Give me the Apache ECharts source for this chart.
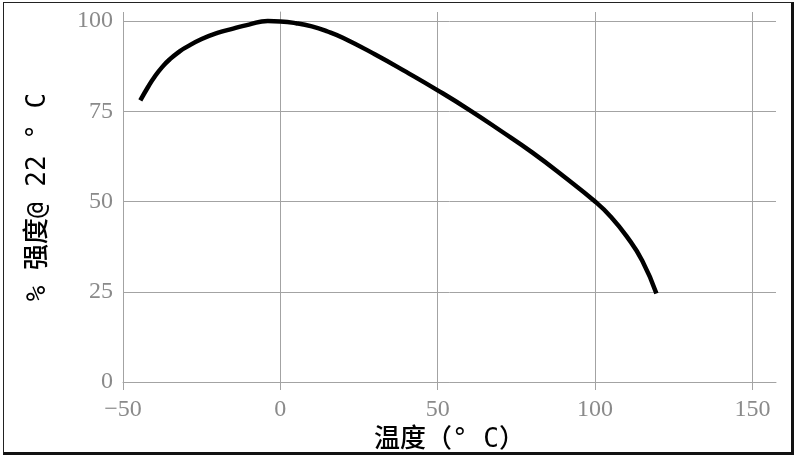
<!DOCTYPE html>
<html lang="zh">

<head>
    <meta charset="UTF-8">
    <title>强度-温度</title>
    <script src="https://cdn.jsdelivr.net/npm/echarts@6/dist/echarts.min.js"></script>
    <style>
        html, body {
            margin: 0;
            padding: 0;
            background: #fff;
        }

        .frame {
            position: absolute;
            left: 3px;
            top: 2px;
            width: 787px;
            height: 449px;
            border: 1px solid #222;
            border-right: 3px solid #111;
            border-bottom: 3px solid #111;
        }

        #main {
            position: absolute;
            left: 0;
            top: 0;
            width: 804px;
            height: 461px;
        }
    </style>
</head>

<body>
    <div class="frame"></div>
    <div id="main"></div>
    <script>
        // 曲线数据（温度 °C, % 强度）
        var tempX = [-44.5, -42, -40, -37.5, -35, -32, -30, -25, -20, -15, -10, -4, 0, 5, 10, 15, 20, 30, 40, 50, 60, 70, 80, 90, 100, 105, 110, 115, 119.5];
        var strengthY = [78, 81.8, 84.5, 87.3, 89.5, 91.6, 92.7, 95, 96.7, 97.9, 99, 100, 99.9, 99.4, 98.5, 97.1, 95.3, 90.8, 85.9, 80.8, 75.4, 69.6, 63.6, 57, 50, 45.8, 40.4, 33.6, 24.5];
        // 刻度
        var xTicks = [-50, 0, 50, 100, 150];
        var yTicks = [0, 25, 50, 75, 100];

        var points = [];
        for (var i = 0; i < tempX.length; i++) {
            points.push([tempX[i], strengthY[i]]);
        }

        var gridColor = '#a3a3a3';
        var labelFont = {
            color: '#8a8a8a',
            fontFamily: 'Liberation Serif',
            fontSize: 24
        };
        var titleFont = {
            color: '#000',
            fontFamily: '"DejaVu Sans Mono", "Noto Sans CJK SC"',
            fontWeight: 500,
            fontSize: 26
        };
        // 负号用 “−”
        function tickText(v) {
            return String(v).replace('-', '\u2212');
        }

        var myChart = echarts.init(document.getElementById('main'));
        var option = {
            animation: false,
            grid: {
                left: 123,
                right: 28,
                top: 12,
                bottom: 79
            },
            xAxis: {
                type: 'value',
                min: -50,
                max: 157.5,
                name: '温度（° C）',
                nameLocation: 'middle',
                nameGap: 29,
                nameTextStyle: titleFont,
                axisLine: { show: true, lineStyle: { color: gridColor, width: 1 } },
                axisTick: { show: true, length: 8, customValues: xTicks, lineStyle: { color: gridColor } },
                axisLabel: Object.assign({ customValues: xTicks, margin: 16, formatter: tickText }, labelFont),
                splitLine: { show: true, lineStyle: { color: gridColor, width: 1 } }
            },
            yAxis: {
                type: 'value',
                min: 0,
                max: 102.5,
                name: '% 强度@ 22 ° C',
                nameLocation: 'middle',
                nameGap: 72,
                nameRotate: 90,
                nameTextStyle: titleFont,
                axisLine: { show: true, lineStyle: { color: gridColor, width: 1 } },
                axisTick: { show: true, length: 8, customValues: yTicks, lineStyle: { color: gridColor } },
                axisLabel: Object.assign({ customValues: yTicks, margin: 10 }, labelFont),
                splitLine: { show: true, lineStyle: { color: gridColor, width: 1 } }
            },
            series: [{
                type: 'line',
                data: points,
                smooth: 0.5,
                showSymbol: false,
                lineStyle: { color: '#000', width: 4.5, cap: 'butt' }
            }]
        };
        myChart.setOption(option);
    </script>
</body>

</html>
